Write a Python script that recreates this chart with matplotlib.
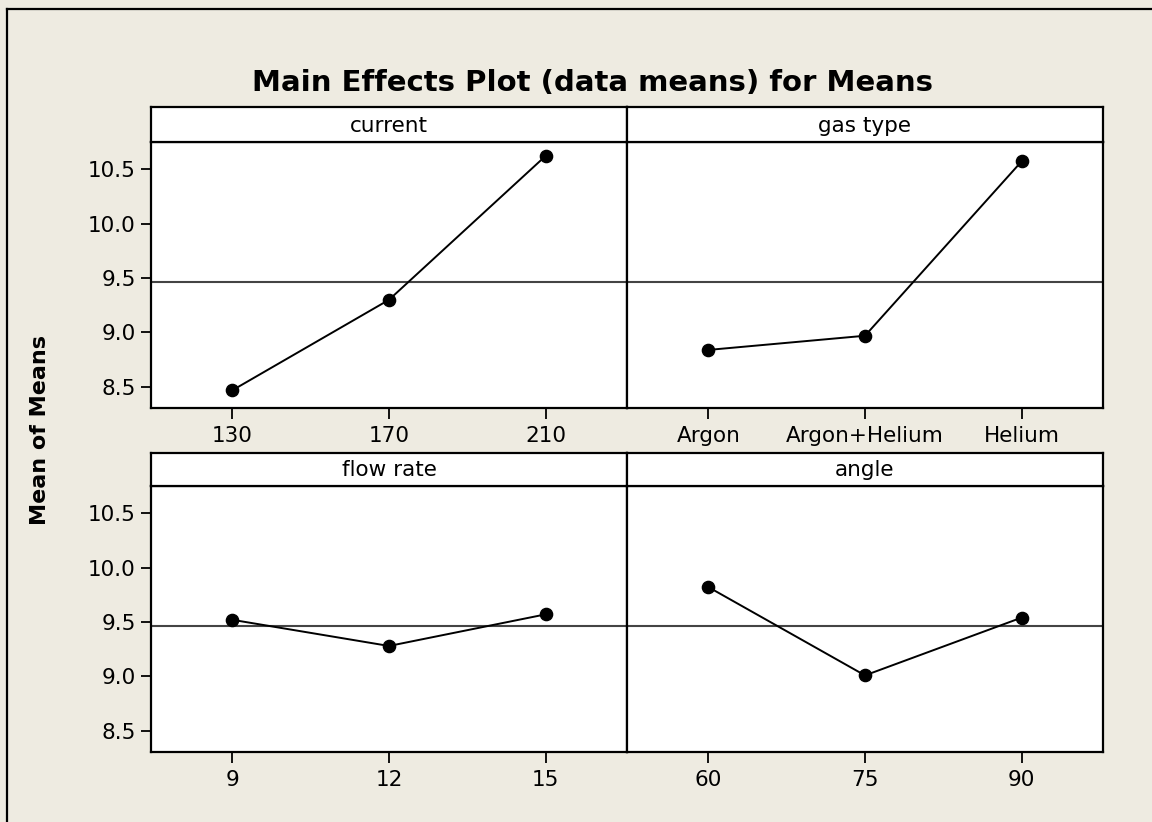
import matplotlib
matplotlib.use("Agg")
import matplotlib.pyplot as plt
from matplotlib.lines import Line2D

# ---- data ----
factors = ["current", "gas type", "flow rate", "angle"]
levels_current = ["130", "170", "210"]
levels_gas = ["Argon", "Argon+Helium", "Helium"]
levels_flow = ["9", "12", "15"]
levels_angle = ["60", "75", "90"]
means_current = [8.47, 9.30, 10.62]
means_gas = [8.84, 8.97, 10.57]
means_flow = [9.52, 9.28, 9.57]
means_angle = [9.82, 9.01, 9.54]
grand_mean = 9.46
yticks = [8.5, 9.0, 9.5, 10.0, 10.5]
ytick_labels = ["8.5", "9.0", "9.5", "10.0", "10.5"]

levels = [levels_current, levels_gas, levels_flow, levels_angle]
means = [means_current, means_gas, means_flow, means_angle]

BG = "#EEEBE1"
W, H = 1152, 822
fig = plt.figure(figsize=(W / 100, H / 100), dpi=100, facecolor=BG)
plt.rcParams['font.family'] = ['DejaVu Sans']

# outer frame lines (top and left)
fig.add_artist(Line2D([7 / W, 7 / W], [0, 1 - 9 / H], transform=fig.transFigure, color="black", lw=1.6))
fig.add_artist(Line2D([7 / W, 1], [1 - 9 / H, 1 - 9 / H], transform=fig.transFigure, color="black", lw=1.6))

col_x = [151, 627]
pw = 476
rows = [(107, 142, 408), (453, 486, 752)]  # strip top, plot top, plot bottom

ylim = (8.307, 10.748)

for i in range(4):
    r, c = divmod(i, 2)
    st, pt, pb = rows[r]
    x0 = col_x[c]
    ax = fig.add_axes([x0 / W, 1 - pb / H, pw / W, (pb - pt) / H])
    sax = fig.add_axes([x0 / W, 1 - pt / H, pw / W, (pt - st) / H])
    sax.set_xticks([]); sax.set_yticks([])
    sax.set_facecolor("white")
    for s in sax.spines.values():
        s.set_linewidth(1.6)
    sax.text(0.5, 0.47, factors[i], transform=sax.transAxes, ha="center", va="center",
             fontsize=15.5)

    xs = list(range(1, len(levels[i]) + 1))
    ax.axhline(grand_mean, color="#444444", lw=1.5, zorder=1)
    ax.plot(xs, means[i], color="black", lw=1.4, marker="o", markersize=8.8, zorder=3)
    ax.set_xlim(0.48, 3.52)
    ax.set_ylim(*ylim)
    ax.set_xticks(xs)
    ax.set_xticklabels(levels[i], fontsize=15.5)
    ax.tick_params(axis="x", direction="out", length=8, width=1.3, pad=5)
    if c == 0:
        ax.set_yticks(yticks)
        ax.set_yticklabels(ytick_labels, fontsize=15.5)
        ax.tick_params(axis="y", direction="out", length=7, width=1.3, pad=4)
    else:
        ax.set_yticks([])
    for s in ax.spines.values():
        s.set_linewidth(1.6)
    ax.set_facecolor("white")

fig.text(592 / W, 1 - 83 / H, "Main Effects Plot (data means) for Means", ha="center", va="center",
         fontsize=21, fontweight="bold")
fig.text(40 / W, 1 - 430 / H, "Mean of Means", ha="center", va="center", rotation=90,
         fontsize=16, fontweight="bold")

fig.savefig("out.png", dpi=100, facecolor=BG)
